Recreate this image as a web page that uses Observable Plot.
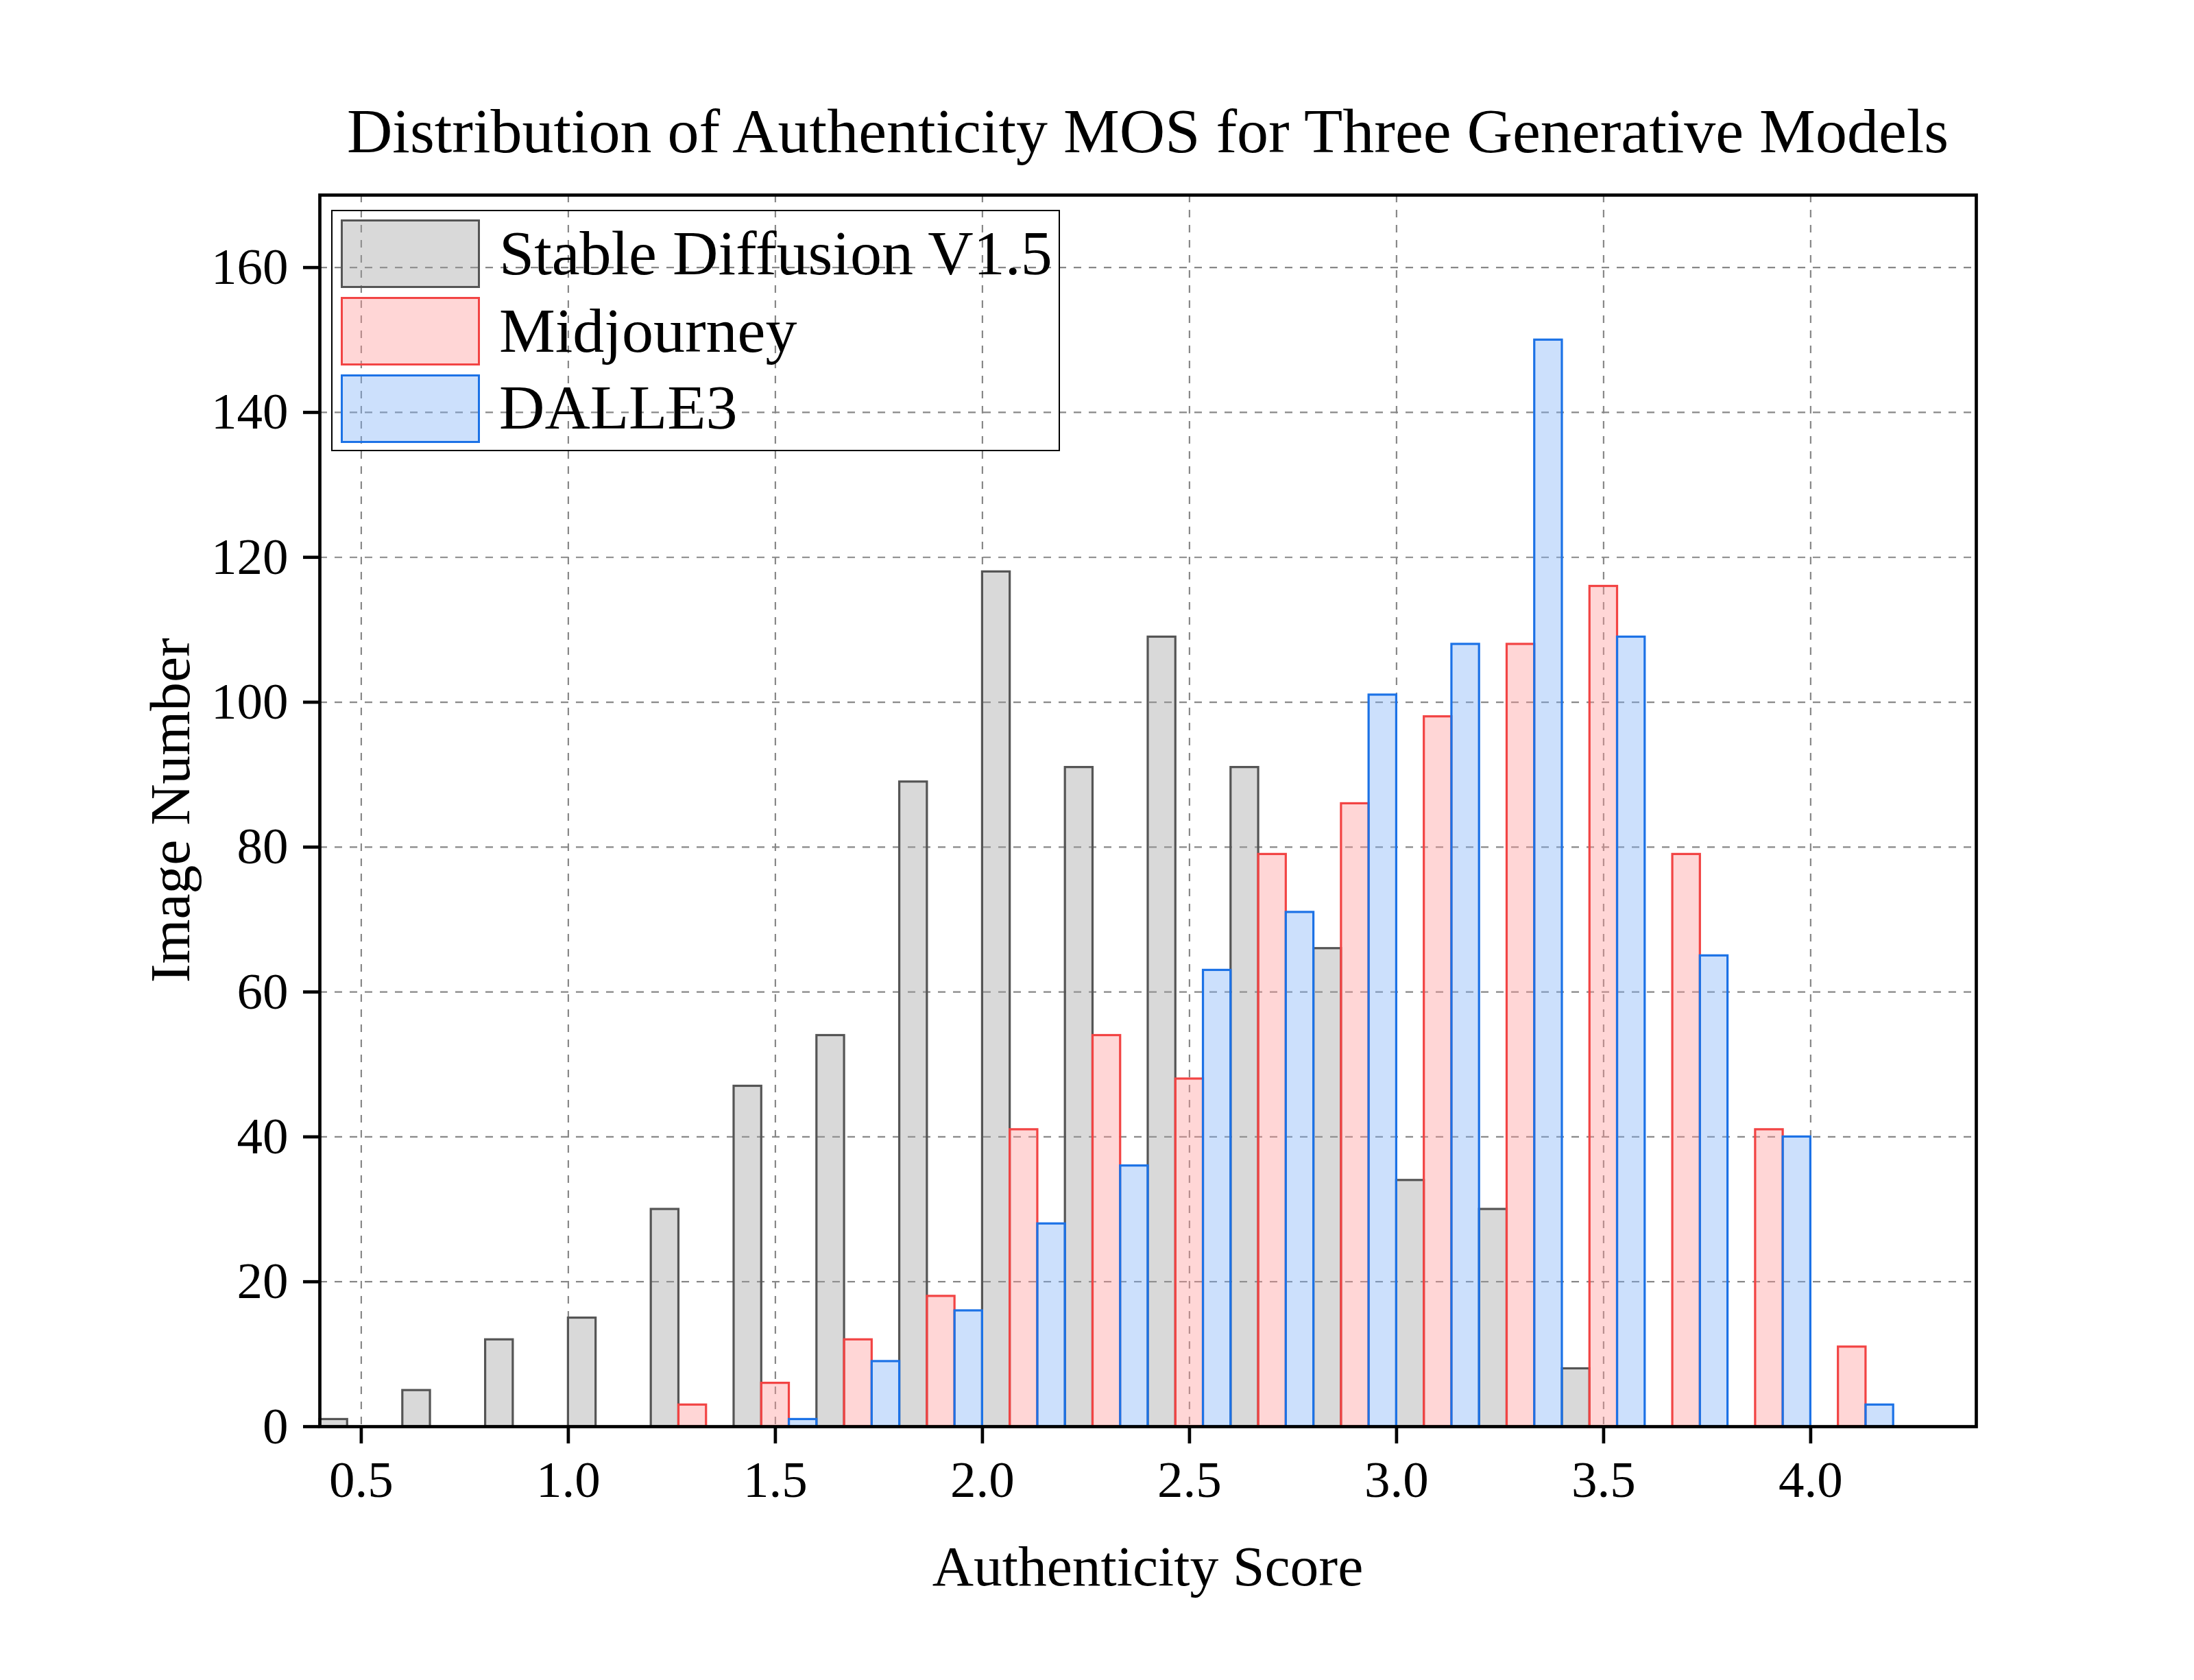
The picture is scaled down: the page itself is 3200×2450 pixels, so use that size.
<!DOCTYPE html>
<html>
<head>
<meta charset="utf-8">
<script src="https://cdn.jsdelivr.net/npm/d3@7"></script>
<script src="https://cdn.jsdelivr.net/npm/@observablehq/plot@0.6"></script>
<style>
  html, body { margin: 0; padding: 0; background: #ffffff; }
  #wrap { position: relative; width: 3200px; height: 2450px; background: #ffffff; font-family: "Liberation Serif", "Times New Roman", serif; color: #000; }
  #header { position: relative; width: 3200px; height: 250px; }
  #title { position: absolute; left: 466px; width: 2416px; top: 145px; font-size: 92px; line-height: 92px; text-align: center; white-space: nowrap; }
  #chart svg { display: block; }
  .xlabel { position: absolute; left: 466px; width: 2416px; top: 2243px; font-size: 83.5px; line-height: 83.5px; text-align: center; white-space: nowrap; }
  .ylabel { position: absolute; left: -251.25px; top: 1140.25px; width: 1000px; height: 83.5px; font-size: 83.5px; line-height: 83.5px; text-align: center; white-space: nowrap; transform: rotate(-90deg); transform-origin: 50% 50%; }
  #legend { position: absolute; left: 483px; top: 306px; width: 1059px; height: 348px; border: 2px solid #000; background: transparent; }
  .sw { position: absolute; left: 12.3px; width: 197px; height: 94px; border-width: 3.3px; border-style: solid; }
  .lt { position: absolute; left: 243px; font-size: 92px; line-height: 92px; white-space: nowrap; }
</style>
</head>
<body>
<div id="wrap">
  <div id="header"><div id="title">Distribution of Authenticity MOS for Three Generative Models</div></div>
  <div id="chart"></div>
  <div class="xlabel">Authenticity Score</div>
  <div class="ylabel">Image Number</div>
  <div id="legend"></div>
</div>
<script>
// ---- data ----
const binStarts = [0.4, 0.6, 0.8, 1.0, 1.2, 1.4, 1.6, 1.8, 2.0, 2.2, 2.4, 2.6, 2.8, 3.0, 3.2, 3.4, 3.6, 3.8, 4.0];
const binWidth = 0.2;
const seriesNames = ["Stable Diffusion V1.5", "Midjourney", "DALLE3"];
const sdCounts    = [1, 5, 12, 15, 30, 47, 54, 89, 118, 91, 109, 91, 66, 34, 30, 8, 0, 0, 0];
const mjCounts    = [0, 0, 0, 0, 3, 6, 12, 18, 41, 54, 48, 79, 86, 98, 108, 116, 79, 41, 11];
const dalleCounts = [0, 0, 0, 0, 0, 1, 9, 16, 28, 36, 63, 71, 101, 108, 150, 109, 65, 40, 3];
const xTicks = [0.5, 1.0, 1.5, 2.0, 2.5, 3.0, 3.5, 4.0];
const yTicks = [0, 20, 40, 60, 80, 100, 120, 140, 160];

// ---- styles ----
const fills   = ["#a0a0a0", "#ff9999", "#80b2f7"];
const strokes = ["#555555", "#f24444", "#1c72e6"];
const fillOpacity = 0.4;

const allCounts = [sdCounts, mjCounts, dalleCounts];
const sub = binWidth / 3;
function rows(k) {
  return binStarts
    .map((b, i) => ({x1: b + k * sub, x2: b + (k + 1) * sub, y: allCounts[k][i], series: seriesNames[k]}))
    .filter(d => d.y > 0);
}

const barMarks = [0, 1, 2].map(k =>
  Plot.rectY(rows(k), {x1: "x1", x2: "x2", y: "y", fill: fills[k], fillOpacity, stroke: strokes[k], strokeWidth: 3.2})
);

const chart = Plot.plot({
  width: 3200,
  height: 2200,
  marginTop: 34,
  marginBottom: 370,
  marginLeft: 466,
  marginRight: 318,
  x: {domain: [0.4, 4.4]},
  y: {domain: [0, 170]},
  style: {fontFamily: "Liberation Serif, Times New Roman, serif", background: "white", color: "black"},
  marks: [
    Plot.gridX(xTicks, {stroke: "#888888", strokeOpacity: 1, strokeWidth: 2.2, strokeDasharray: "11,11"}),
    Plot.gridY(yTicks.filter(d => d > 0), {stroke: "#888888", strokeOpacity: 1, strokeWidth: 2.2, strokeDasharray: "11,11"}),
    ...barMarks,
    Plot.frame({stroke: "black", strokeWidth: 4.7}),
    Plot.axisX(xTicks, {tickSize: 25, tickPadding: 24, strokeWidth: 4.7, fontSize: 75, tickFormat: d => d.toFixed(1), label: null}),
    Plot.axisY(yTicks, {tickSize: 24, tickPadding: 22, strokeWidth: 4.7, fontSize: 75, tickFormat: d => String(d), label: null})
  ]
});
document.getElementById("chart").appendChild(chart);

// ---- legend (HTML overlay) ----
const legend = document.getElementById("legend");
const swTops = [12, 125, 238];
const textTops = [15, 128, 240];
seriesNames.forEach((name, k) => {
  const sw = document.createElement("div");
  sw.className = "sw";
  sw.style.top = swTops[k] + "px";
  sw.style.borderColor = strokes[k];
  const c = d3.color(fills[k]); c.opacity = fillOpacity;
  sw.style.background = c.formatRgb();
  legend.appendChild(sw);
  const t = document.createElement("div");
  t.className = "lt";
  t.style.top = textTops[k] + "px";
  t.textContent = name;
  legend.appendChild(t);
});
</script>
</body>
</html>
